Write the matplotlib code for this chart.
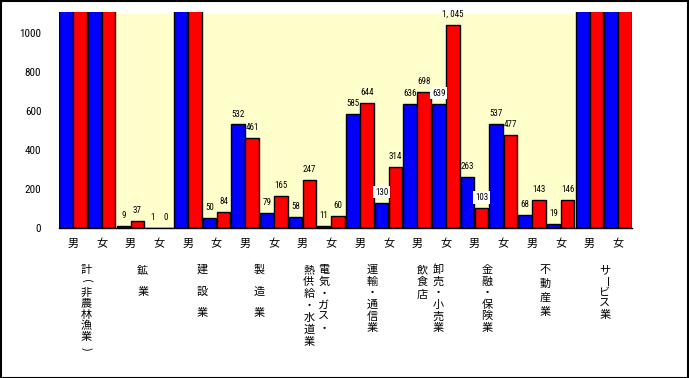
import numpy as np
import matplotlib.pyplot as plt
from matplotlib.patches import Rectangle
from matplotlib import font_manager

# industries (vertical labels under each 男/女 pair)
industries = ['計(非農林漁業)', '鉱業', '建設業', '製造業', '電気・ガス・熱供給・水道業',
              '運輸・通信業', '卸売・小売業飲食店', '金融・保険業', '不動産業', 'サービス業']
sexes = ['男', '女']

# values per 男/女 slot; 2000 = bar runs off the top of the scale (not readable)
blue_vals = [2000, 2000, 9, 1, 2000, 50, 532, 79, 58, 11,
             585, 130, 636, 639, 263, 537, 68, 19, 2000, 2000]
red_vals = [2000, 2000, 37, 0, 2000, 84, 461, 165, 247, 60,
            644, 314, 698, 1045, 103, 477, 143, 146, 2000, 2000]

# labels drawn on a white patch in the original
boxed = {('b', 11), ('b', 13), ('r', 14)}

# how each industry name is broken into vertical columns: (text, x shift px, char step px)
columns = {
    0: [('計(非農林漁業)', -1, 11.2)],
    1: [('鉱業', -2, 21.7)],
    2: [('建設業', 0, 21.7)],
    3: [('製造業', 0, 21.7)],
    4: [('電気・ガス・', 7, 11.8), ('熱供給・水道業', -8, 12.0)],
    5: [('運輸・通信業', -2, 11.6)],
    6: [('卸売・小売業', 7, 11.6), ('飲食店', -9, 12.5)],
    7: [('金融・保険業', -2, 11.6)],
    8: [('不動産業', -1, 13.9)],
    9: [('サービス業', 1, 11.3)],
}

# pick a narrow face for the numbers if one is around
installed = {f.name for f in font_manager.fontManager.ttflist}
narrow = [n for n in ['Liberation Sans Narrow', 'DejaVu Sans Condensed', 'Roboto Condensed']
          if n in installed]
NUM_FONT = narrow[:1] + ['DejaVu Sans']
NUM_STRETCH = 'normal' if narrow else 'condensed'
JP_FONT = ['Noto Sans CJK JP', 'DejaVu Sans']
Y_TOP = 1110
PX = 0.72  # points per pixel at dpi 100

fig = plt.figure(figsize=(6.89, 3.78), dpi=100)
ax = fig.add_axes([58.7 / 689, 1 - 228 / 378, (632.3 - 58.7) / 689, 216 / 378])

x = np.arange(len(blue_vals))
w = 0.47
ax.axhspan(0, 1100, color='#FFFFCC', zorder=0)
ax.bar(x - 0.245, blue_vals, w, color='#0000FF', edgecolor='black', linewidth=1, zorder=2)
ax.bar(x + 0.245, red_vals, w, color='#FF0000', edgecolor='black', linewidth=1, zorder=2)

# value labels above the bars
for tag, vals, shift in (('b', blue_vals, -0.245), ('r', red_vals, 0.245)):
    for i, v in enumerate(vals):
        if v > Y_TOP:
            continue
        txt = f'{v:,}'.replace(',', ', ')
        bbox = dict(facecolor='white', edgecolor='none', pad=1.2) if (tag, i) in boxed else None
        ax.annotate(txt, xy=(i + shift, v), xytext=(0, 7.5), textcoords='offset points',
                    ha='center', va='center', fontsize=6.5, family=NUM_FONT,
                    stretch=NUM_STRETCH, bbox=bbox, zorder=3)

ax.set_xlim(-0.5, len(x) - 0.5)
ax.set_ylim(0, Y_TOP)
ax.set_yticks(range(0, 1001, 200))
ax.tick_params(axis='y', length=0, pad=12.5, labelsize=8)
for lab in ax.get_yticklabels():
    lab.set_family(NUM_FONT)
    lab.set_stretch(NUM_STRETCH)
ax.set_xticks(x)
ax.set_xticklabels(sexes * len(industries), family=JP_FONT, fontsize=8)
ax.tick_params(axis='x', length=0, pad=8)
for s in ('left', 'right', 'top'):
    ax.spines[s].set_visible(False)
ax.spines['bottom'].set_linewidth(1)
ax.set_facecolor('white')

# vertical industry names
for i, cols in columns.items():
    cx = 2 * i + 0.5
    for text, dx, step in cols:
        for k, ch in enumerate(text):
            rot = -90 if ch in '()ー' else 0
            ax.annotate(ch, xy=(cx, 0), xycoords=('data', 'axes fraction'),
                        xytext=(dx * PX, -(42 + k * step) * PX), textcoords='offset points',
                        ha='center', va='center', rotation=rot, fontsize=8, family=JP_FONT)

fig.patches.append(Rectangle((0.5 / 689, 0.5 / 378), 1 - 1.5 / 689, 1 - 1.5 / 378,
                             transform=fig.transFigure, fill=False, edgecolor='black', linewidth=1.5))

fig.savefig('out.png', dpi=100)
